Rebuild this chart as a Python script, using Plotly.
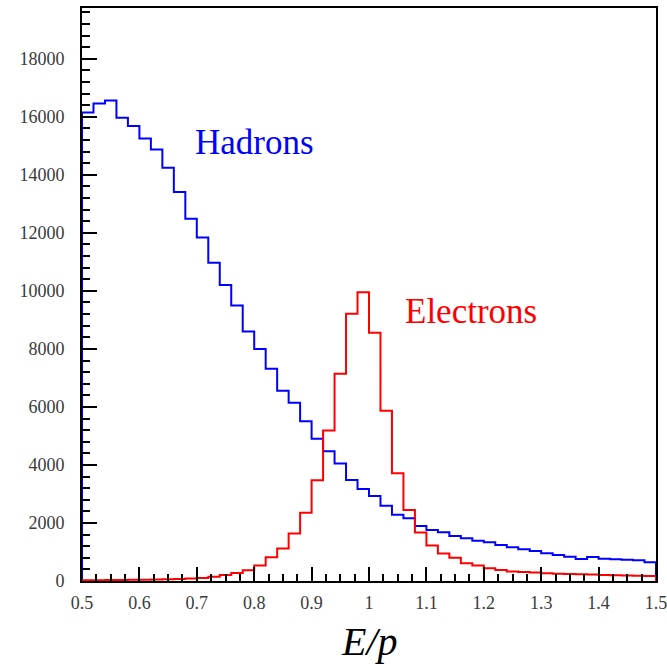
import plotly.graph_objects as go

# E/p distributions, 50 bins of width 0.02 from 0.5 to 1.5
bin_low = 0.5
bin_width = 0.02
n_bins = 50

hadrons = [
    16150, 16460, 16560, 15970, 15680, 15250, 14870, 14240, 13410, 12490,
    11840, 10970, 10200, 9500, 8600, 8000, 7320, 6560, 6140, 5510,
    4900, 4470, 4050, 3480, 3170, 2930, 2590, 2280, 2160, 1900,
    1760, 1680, 1550, 1470, 1390, 1333, 1241, 1161, 1092, 1034,
    954, 897, 839, 759, 828, 770, 747, 730, 715, 650,
]

electrons = [
    30, 30, 35, 35, 40, 45, 50, 60, 70, 85,
    100, 150, 210, 280, 370, 530, 820, 1120, 1640, 2350,
    3470, 5190, 7140, 9210, 9950, 8560, 5870, 3710, 2450, 1670,
    1220, 950, 800, 610, 530, 440, 380, 330, 310, 290,
    270, 250, 240, 230, 220, 210, 200, 190, 180, 170,
]

x_tick_vals = [0.5, 0.6, 0.7, 0.8, 0.9, 1.0, 1.1, 1.2, 1.3, 1.4, 1.5]
x_tick_text = ["0.5", "0.6", "0.7", "0.8", "0.9", "1", "1.1", "1.2", "1.3", "1.4", "1.5"]
y_tick_vals = [0, 2000, 4000, 6000, 8000, 10000, 12000, 14000, 16000, 18000]
y_tick_text = ["0", "2000", "4000", "6000", "8000", "10000", "12000", "14000", "16000", "18000"]

edges = [round(bin_low + i * bin_width, 4) for i in range(n_bins + 1)]


def hist_outline(values):
    """Step outline of a histogram: rises from zero at the first edge, drops to zero at the last."""
    xs = [edges[0]] + edges
    ys = [0] + list(values) + [0]
    return xs, ys


fig = go.Figure()
for vals, color, name in [(hadrons, "#0000ff", "Hadrons"), (electrons, "#ff0000", "Electrons")]:
    xs, ys = hist_outline(vals)
    fig.add_trace(go.Scatter(
        x=xs, y=ys, mode="lines", name=name,
        line=dict(color=color, width=2, shape="hv"),
        showlegend=False,
    ))

label_font = dict(family="Liberation Serif, Times New Roman, serif", size=18, color="#3a3a3a")

fig.update_xaxes(
    range=[0.5, 1.5],
    tickvals=x_tick_vals, ticktext=x_tick_text,
    ticks="inside", ticklen=14, tickwidth=2, tickcolor="black",
    minor=dict(dtick=0.025, tick0=0.5, ticks="inside", ticklen=7, tickwidth=1.5, tickcolor="black"),
    showline=True, linecolor="black", linewidth=2, mirror=True,
    showgrid=False, zeroline=False, automargin=False,
    tickfont=label_font, ticklabelstandoff=4, ticklabeloverflow="allow",
)
fig.update_yaxes(
    range=[0, 19750],
    tickvals=y_tick_vals, ticktext=y_tick_text,
    ticks="inside", ticklen=15, tickwidth=2, tickcolor="black",
    minor=dict(dtick=400, tick0=0, ticks="inside", ticklen=8, tickwidth=1.5, tickcolor="black"),
    showline=True, linecolor="black", linewidth=2, mirror=True,
    showgrid=False, zeroline=False, automargin=False,
    tickfont=label_font, ticklabelstandoff=12,
)

text_font = "Liberation Serif, Times New Roman, serif"
fig.add_annotation(
    x=0.6937, y=15120, xref="x", yref="y", text="Hadrons", showarrow=False,
    xanchor="left", yanchor="middle",
    font=dict(family=text_font, size=35, color="#0000ff"),
)
fig.add_annotation(
    x=1.0597, y=9282, xref="x", yref="y", text="Electrons", showarrow=False,
    xanchor="left", yanchor="middle",
    font=dict(family=text_font, size=35, color="#ff0000"),
)
fig.add_annotation(
    x=0.5, y=-0.106, xref="paper", yref="paper", text="<i>E/p</i>", showarrow=False,
    xanchor="center", yanchor="middle",
    font=dict(family=text_font, size=40, color="black"),
)

fig.update_layout(
    width=667, height=664,
    margin=dict(l=82, r=11, t=8, b=83),
    paper_bgcolor="white", plot_bgcolor="white",
)

fig.write_html("out.html")
